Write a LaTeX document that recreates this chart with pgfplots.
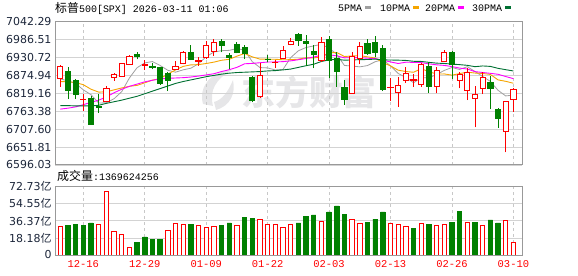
\documentclass[border=0pt]{standalone}
\usepackage{fontspec}
\usepackage{pgfplots}
\pgfplotsset{compat=1.18}
\usepackage{pgfplotstable}
\setmainfont{Liberation Sans}
\newfontfamily\cjk{Noto Sans CJK SC}
\newfontfamily\mono{Liberation Mono}
\newfontfamily\tickf{DejaVu Sans}
\definecolor{upred}{RGB}{255,0,0}
\definecolor{dngreen}{RGB}{0,128,0}
\definecolor{maA}{RGB}{160,160,160}
\definecolor{maB}{RGB}{245,165,0}
\definecolor{maC}{RGB}{255,0,255}
\definecolor{maD}{RGB}{0,112,50}
\definecolor{framec}{RGB}{153,153,153}
\definecolor{gridc}{RGB}{211,211,211}
\definecolor{vgridc}{RGB}{200,200,200}
\definecolor{tickc}{RGB}{28,38,58}
\definecolor{wmc}{RGB}{230,230,232}
% candle macros: position, low, open, close, high
\newcommand\cUp[5]{\pgfmathsetmacro\xl{#1-0.34}\pgfmathsetmacro\xr{#1+0.34}%
\addplot[upred, line width=0.9bp] coordinates {(#1,#2) (#1,#5)};%
\addplot[draw=upred, fill=white, line width=0.9bp] coordinates {(\xl,#3) (\xr,#3) (\xr,#4) (\xl,#4)} -- cycle;}
\newcommand\cDn[5]{\pgfmathsetmacro\xl{#1-0.34}\pgfmathsetmacro\xr{#1+0.34}%
\addplot[dngreen, line width=0.9bp] coordinates {(#1,#2) (#1,#5)};%
\addplot[draw=dngreen, fill=dngreen, line width=0.9bp] coordinates {(\xl,#3) (\xr,#3) (\xr,#4) (\xl,#4)} -- cycle;}
\pgfplotstableread{
i ma5 ma10 ma20 ma30
1 6864 6856 6770 6781
2 6858 6855 6773 6781
3 6850 6853 6777 6780
4 6830 6846 6784 6780
5 6814.9 6832 6791 6780
6 6788.9 6823 6798 6782
7 6790 6824 6808 6788
8 6802.4 6830 6821 6793
9 6824.5 6836 6832 6798
10 6867.1 6841 6841 6804
11 6899.1 6844 6848 6810
12 6914 6852 6855 6818
13 6918.2 6860.3 6860 6826
14 6905.9 6865.2 6864 6834
15 6891 6879.1 6866 6842
16 6885 6892 6867 6850
17 6892.4 6903.2 6868 6856
18 6897.4 6907.8 6870 6861
19 6911.5 6908.7 6873 6866
20 6933.1 6912.1 6876.5 6871
21 6947.9 6916.4 6880.2 6875
22 6952 6922.2 6887.1 6879
23 6953.1 6925.2 6892.8 6882
24 6958.5 6935 6900.1 6884
25 6953.7 6943.4 6911.2 6885
26 6917.8 6932.8 6912.4 6886
27 6899.5 6925.8 6914.5 6887
28 6898.3 6925.7 6916.7 6889
29 6892 6925.2 6917 6890
30 6893.7 6923.7 6917.9 6892.2
31 6930.4 6924.1 6920.3 6894.8
32 6951.8 6925.6 6923.9 6900
33 6961.9 6930.1 6927.7 6905.2
34 6966.9 6929.5 6932.2 6909.9
35 6971.9 6932.8 6938.1 6918.4
36 6960.1 6945.3 6939 6923.4
37 6940.8 6946.3 6936 6925.1
38 6905.9 6933.9 6929.8 6922.5
39 6904.3 6935.6 6930.4 6923.2
40 6901.6 6936.8 6930.2 6924.2
41 6905.7 6932.9 6928.5 6924.5
42 6917.6 6929.2 6927.4 6925.7
43 6923.8 6914.9 6922.5 6923.4
44 6904.9 6904.6 6917 6923
45 6881 6891.3 6912.1 6922.5
46 6868.6 6887.1 6916.2 6921.7
47 6852.2 6884.9 6915.6 6919
48 6867.9 6895.9 6914.9 6918.5
49 6868.1 6886.5 6911.1 6915.8
50 6877.5 6879.3 6908 6913.2
51 6890.6 6879.6 6906.2 6912.2
52 6899.7 6875.9 6902.6 6910.3
53 6893.5 6880.7 6897.8 6908.6
54 6902.2 6885.2 6894.9 6906.4
55 6887.3 6882.4 6886.8 6902.2
56 6871.7 6881.1 6884.1 6904.5
57 6856.5 6878.1 6881.5 6903.1
58 6828.7 6861.1 6878.5 6897
59 6811.1 6856.6 6871.6 6892.9
60 6814 6850.6 6864.9 6888.9
}\matab
\pgfplotstableread{
i v
1 30.9
6 32.6
7 68.1
8 25.5
9 22.0
10 8.2
15 26.6
16 34.1
17 32.6
19 31.9
20 29.8
21 30.9
24 31.9
27 38.3
28 33.0
29 33.0
30 29.8
31 33.0
35 36.2
39 38.3
40 34.1
44 34.1
45 33.0
46 30.9
48 34.1
50 31.9
51 33.0
54 35.1
56 31.9
59 37.3
60 13.8
}\volred
\pgfplotstableread{
i v
2 31.9
3 33.0
4 31.9
5 34.1
11 13.8
12 19.2
13 17.0
14 17.0
18 33.0
22 31.9
23 34.1
25 40.4
26 39.4
32 34.1
33 41.5
34 42.6
36 45.8
37 52.2
38 43.6
41 35.1
42 38.3
43 45.8
47 28.7
49 33.0
52 35.1
53 46.8
55 35.1
57 37.3
58 34.1
}\volgreen
\begin{document}
\begin{tikzpicture}
\path[use as bounding box] (0,0) rectangle (578bp,276bp);
% watermark
\fill[wmc] (203bp,172bp) .. controls (198bp,190bp) and (212bp,205bp) .. (232bp,206bp) .. controls (216bp,197bp) and (209bp,186bp) .. (213bp,170bp) -- cycle;
\fill[wmc] (216bp,166bp) .. controls (230bp,170bp) and (236bp,182bp) .. (233bp,196bp) .. controls (228bp,184bp) and (222bp,176bp) .. (214bp,174bp) -- cycle;
\node[text=wmc, font=\cjk\bfseries\fontsize{34}{34}\selectfont, anchor=center, inner sep=0] at (309bp,184bp) {东方财富};
% title
\node[anchor=base west, inner sep=0] at (55bp,263bp) {{\cjk\fontsize{12}{12}\selectfont 标普}{\mono\fontsize{10}{10}\selectfont 500[SPX] 2026-03-11 01:06}};
% legend
\node[anchor=base west, inner sep=0] at (338bp,264bp) {\mono\fontsize{10}{10}\selectfont 5PMA\hspace{3bp}\textcolor{maA}{\rule[2.7bp]{6bp}{2.8bp}}};
\node[anchor=base west, inner sep=0] at (380bp,264bp) {\mono\fontsize{10}{10}\selectfont 10PMA\hspace{3bp}\textcolor{maB}{\rule[2.7bp]{6bp}{2.8bp}}};
\node[anchor=base west, inner sep=0] at (425bp,264bp) {\mono\fontsize{10}{10}\selectfont 20PMA\hspace{3bp}\textcolor{maC}{\rule[2.7bp]{6bp}{2.8bp}}};
\node[anchor=base west, inner sep=0] at (472bp,264bp) {\mono\fontsize{10}{10}\selectfont 30PMA\hspace{3bp}\textcolor{maD}{\rule[2.7bp]{6bp}{2.8bp}}};
% volume caption
\node[anchor=base west, inner sep=0] at (57bp,95bp) {{\cjk\fontsize{12}{12}\selectfont 成交量}{\mono\fontsize{10}{10}\selectfont :1369624256}};
\begin{axis}[
  at={(55bp,111bp)}, anchor=south west, scale only axis,
  width=467.3bp, height=143.3bp,
  xmin=0.31, xmax=61.16, ymin=6596.03, ymax=7042.29,
  axis line style={draw=framec, line width=1bp},
  xtick={4,12,20,28,36,44,52,60}, xticklabels={},
  ytick={6596.03,6651.81,6707.60,6763.38,6819.16,6874.94,6930.72,6986.51,7042.29},
  yticklabels={6596.03,6651.81,6707.60,6763.38,6819.16,6874.94,6930.72,6986.51,7042.29},
  major tick length=0pt,
  xmajorgrids, ymajorgrids,
  x grid style={vgridc, line width=0.8bp, dash pattern=on 3bp off 3bp},
  y grid style={gridc, line width=0.8bp},
  yticklabel style={font=\tickf\fontsize{11}{11}\selectfont, text=tickc},
]
\addplot[maA, line width=0.8bp] table[x=i, y=ma5] {\matab};
\addplot[maB, line width=0.9bp] table[x=i, y=ma10] {\matab};
\addplot[maC, line width=0.9bp] table[x=i, y=ma20] {\matab};
\addplot[maD, line width=0.9bp] table[x=i, y=ma30] {\matab};
\cUp{1}{6839.9}{6865.9}{6904.3}{6906}
\cDn{2}{6801.5}{6888.7}{6829.5}{6902.2}
\cDn{3}{6801.5}{6860.7}{6817.1}{6863.8}
\cUp{4}{6765.2}{6799.5}{6801.5}{6817.1}
\cDn{5}{6721}{6803.6}{6722.6}{6810.9}
\cDn{6}{6759}{6779.7}{6774.5}{6817.1}
\cUp{7}{6791}{6793.2}{6834.7}{6842}
\cUp{8}{6858.6}{6869}{6879.4}{6883.5}
\cUp{9}{6871}{6873.1}{6911.5}{6914.6}
\cUp{10}{6909}{6909.5}{6935.4}{6939.6}
\cDn{11}{6925}{6940.6}{6934.4}{6947.9}
\cUp{12}{6891.8}{6907.4}{6909.5}{6923}
\cDn{13}{6893.9}{6903.2}{6900.1}{6914.6}
\cDn{14}{6845.1}{6899.1}{6850.3}{6902.2}
\cDn{15}{6826.4}{6881.4}{6860.7}{6886.6}
\cUp{16}{6891}{6893}{6904.3}{6921}
\cUp{17}{6909.5}{6911.5}{6946.8}{6951}
\cDn{18}{6923}{6946.8}{6925}{6969.7}
\cUp{19}{6905.3}{6918.8}{6920.9}{6931.3}
\cUp{20}{6926}{6931.3}{6968.6}{6981.1}
\cUp{21}{6936.4}{6948.9}{6978}{6988.3}
\cDn{22}{6946.8}{6980}{6967.6}{6988.3}
\cDn{23}{6893.9}{6938.5}{6930.2}{6943.7}
\cDn{24}{6943.7}{6972.8}{6947.9}{6980}
\cDn{25}{6926}{6962.4}{6944.7}{6969.7}
\cDn{26}{6791.2}{6869}{6798.4}{6873.1}
\cUp{27}{6805.7}{6808.8}{6876.3}{6912.6}
\cDn{28}{6915.7}{6926}{6924}{6938.5}
\cUp{29}{6899.1}{6914.6}{6916.7}{6923}
\cUp{30}{6925}{6928.1}{6953}{6966.5}
\cUp{31}{6968.6}{6972.8}{6982.1}{6990.4}
\cDn{32}{6966.5}{7003.9}{6983.1}{7006}
\cDn{33}{6905.3}{6982.1}{6974.8}{7000.8}
\cDn{34}{6897}{6949.9}{6941.6}{6969.7}
\cUp{35}{6917.8}{6920.9}{6978}{6993.5}
\cDn{36}{6865.9}{6988.3}{6923}{6998.7}
\cDn{37}{6839.9}{6928.1}{6886.6}{6948.9}
\cDn{38}{6782.9}{6837.9}{6800.5}{6860.7}
\cUp{39}{6819.2}{6819.2}{6933.3}{6946.8}
\cUp{40}{6909.5}{6928.1}{6964.5}{6980}
\cDn{41}{6938.5}{6974.8}{6943.7}{6988.3}
\cDn{42}{6931.3}{6976.9}{6945.8}{6997.7}
\cDn{43}{6826.4}{6959.3}{6831.6}{6969.7}
\cUp{44}{6795.3}{6836.8}{6838.9}{6865.9}
\cUp{45}{6777.6}{6821.2}{6845.1}{6869}
\cUp{46}{6852.4}{6860.7}{6881.4}{6902.2}
\cUp{47}{6839.9}{6860.7}{6863.8}{6879.4}
\cUp{48}{6839.9}{6847.2}{6910.5}{6914.6}
\cDn{49}{6821.2}{6904.3}{6839.9}{6917.8}
\cUp{50}{6819.2}{6841}{6891.8}{6902.2}
\cUp{51}{6915.7}{6917.8}{6946.8}{6954.1}
\cDn{52}{6862.8}{6947.9}{6909.5}{6951}
\cUp{53}{6834.7}{6858.6}{6879.4}{6886.6}
\cUp{54}{6798.4}{6829.5}{6883.5}{6899.1}
\cUp{55}{6713.3}{6803.6}{6817.1}{6842}
\cUp{56}{6817.1}{6834.7}{6869}{6886.6}
\cDn{57}{6770.4}{6852.4}{6833.7}{6873.1}
\cDn{58}{6712.3}{6770.4}{6740.3}{6774.5}
\cUp{59}{6635.5}{6700.9}{6795.3}{6795.3}
\cUp{60}{6762.1}{6800.5}{6831.6}{6834.7}
\end{axis}
\begin{axis}[
  at={(55bp,21bp)}, anchor=south west, scale only axis,
  width=467.3bp, height=68.3bp,
  xmin=0.31, xmax=61.16, ymin=0, ymax=72.73,
  axis line style={draw=framec, line width=1bp},
  xtick={4,12,20,28,36,44,52,60},
  xticklabels={12-16,12-29,01-09,01-22,02-03,02-13,02-26,03-10},
  xticklabel style={font=\mono\fontsize{10.5}{10.5}\selectfont, text=upred, yshift=-2bp},
  ytick={0,18.18,36.37,54.55,72.73},
  yticklabels={0,18.18{\cjk 亿},36.37{\cjk 亿},54.55{\cjk 亿},72.73{\cjk 亿}},
  yticklabel style={font=\tickf\fontsize{11}{11}\selectfont, text=tickc},
  major tick length=0pt,
  xmajorgrids, ymajorgrids,
  x grid style={vgridc, line width=0.8bp, dash pattern=on 3bp off 3bp},
  y grid style={gridc, line width=0.8bp},
]
\addplot[ybar, bar width=4.4bp, bar shift=0pt, draw=upred, fill=white, line width=0.9bp] table[x=i, y=v] {\volred};
\addplot[ybar, bar width=4.4bp, bar shift=0pt, draw=dngreen, fill=dngreen, line width=0.9bp] table[x=i, y=v] {\volgreen};
\end{axis}
\end{tikzpicture}
\end{document}
